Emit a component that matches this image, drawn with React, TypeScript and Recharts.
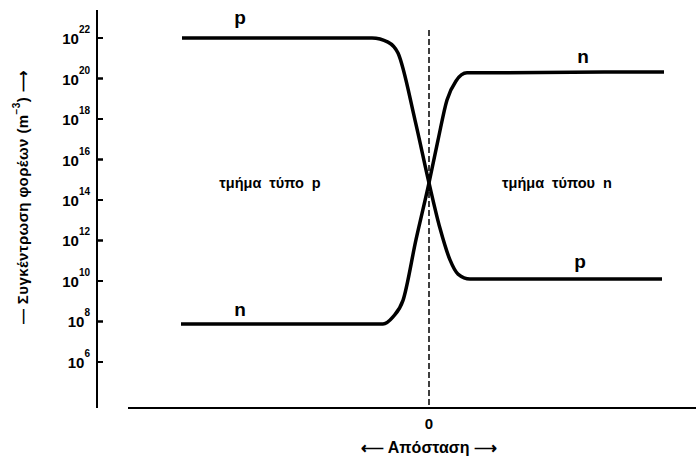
import { ComposedChart, Line, ReferenceDot, ReferenceLine, Scatter, XAxis, YAxis } from "recharts";

// Carrier concentration across a p–n junction (m^-3), log scale
const pDistance = [-2.47, -0.57, -0.41, -0.31, -0.14, 0, 0.11, 0.21, 0.29, 0.41, 2.33];
const pConcentration = [1e22, 1e22, 6.3e21, 1.8e21, 8.9e17, 7e14, 4e12, 1.1e11, 2.2e10, 1.25e10, 1.25e10];

const nDistance = [-2.48, -0.46, -0.36, -0.26, -0.13, 0, 0.09, 0.18, 0.27, 0.38, 2.35];
const nConcentration = [7.6e7, 7.6e7, 1.7e8, 1.1e9, 1.1e12, 7e14, 9e16, 8.7e18, 7.6e19, 1.9e20, 2.1e20];

const yTicks = [1e6, 1e8, 1e10, 1e12, 1e14, 1e16, 1e18, 1e20, 1e22];
const xTicks = [0];

const X_MIN = -3.32;
const X_MAX = 2.67;
const Y_MIN = Math.pow(10, 3.728);
const Y_MAX = Math.pow(10, 23.383);

const pData = pDistance.map((x, i) => ({ x, c: pConcentration[i] }));
const nData = nDistance.map((x, i) => ({ x, c: nConcentration[i] }));
const tickData = yTicks.map((c) => ({ x: X_MIN, c }));

const INK = "#000";
const FONT = '"Liberation Sans", Arial, sans-serif';

// "10" with the exponent raised
const PowerTick = (props: any) => {
  const x = Number(props.x);
  const y = Number(props.y);
  const exp = Math.round(Math.log10(props.payload.value));
  return (
    <text x={x} y={y} dy={6} textAnchor="end" fontSize={15} fontWeight="bold" fill={INK}>
      10
      <tspan dy={-11} fontSize={10}>
        {exp}
      </tspan>
    </text>
  );
};

// short inward mark on the concentration axis
const TickMark = (props: any) => {
  const cx = Number(props.cx);
  const cy = Number(props.cy);
  return <path d={`M${cx},${cy}H${cx + 6}`} stroke={INK} strokeWidth={2} fill="none" />;
};

const YTitle = (props: any) => {
  const vb = props.viewBox;
  const cx = vb.x + 22;
  const cy = vb.y + 187;
  return (
    <text
      transform={`translate(${cx}, ${cy}) rotate(-90)`}
      textAnchor="middle"
      dominantBaseline="central"
      fontSize={15}
      fontWeight="bold"
      fill={INK}
      letterSpacing={0.4}
    >
      — Συγκέντρωση φορέων (m
      <tspan dy={-6} fontSize={10}>
        −3
      </tspan>
      <tspan dy={6}>)</tspan> ⟶
    </text>
  );
};

const XTitle = (props: any) => {
  const vb = props.viewBox;
  return (
    <text
      x={vb.x + 332}
      y={447}
      textAnchor="middle"
      dominantBaseline="central"
      fontSize={16}
      fontWeight="bold"
      fill={INK}
    >
      ⟵ Απόσταση ⟶
    </text>
  );
};

const curveLabel = (value: string, offset: number) => ({
  value,
  position: "top" as const,
  offset,
  fill: INK,
  fontSize: 19,
  fontWeight: "bold",
});

const regionLabel = (value: string) => ({
  value,
  position: "center" as const,
  fill: INK,
  fontSize: 14.5,
  fontWeight: "bold",
  wordSpacing: 4,
});

export default function App() {
  return (
    <div style={{ position: "absolute", left: 0, top: 0, background: "#fff", fontFamily: FONT }}>
      <ComposedChart width={696} height={459} margin={{ top: 10, right: 0, bottom: 21, left: 0 }}>
        <XAxis
          type="number"
          dataKey="x"
          domain={[X_MIN, X_MAX]}
          ticks={xTicks}
          allowDataOverflow
          axisLine={false}
          tickLine={false}
          tickSize={0}
          tickMargin={10}
          height={30}
          tick={{ fill: INK, fontSize: 15, fontWeight: "bold" }}
          label={{ content: XTitle }}
        />
        {/* negative tick size points the tick lines into the plot */}
        <YAxis
          type="number"
          scale="log"
          domain={[Y_MIN, Y_MAX]}
          ticks={yTicks}
          interval={0}
          allowDataOverflow
          axisLine={{ stroke: INK, strokeWidth: 2 }}
          tickLine={{ stroke: INK, strokeWidth: 2 }}
          tickSize={-6}
          tickMargin={13}
          width={97}
          tick={PowerTick}
          label={{ content: YTitle }}
        />

        {/* horizontal axis, set apart from the vertical one */}
        <ReferenceLine
          segment={[
            { x: -3.01, y: Y_MIN },
            { x: X_MAX, y: Y_MIN },
          ]}
          stroke={INK}
          strokeWidth={2}
          ifOverflow="visible"
        />
        {/* junction */}
        <ReferenceLine
          segment={[
            { x: 0, y: Math.pow(10, 22.395) },
            { x: 0, y: Y_MIN },
          ]}
          stroke={INK}
          strokeWidth={1.5}
          strokeDasharray="6 3"
          ifOverflow="visible"
        />

        <Scatter data={tickData} dataKey="c" shape={TickMark} isAnimationActive={false} />

        <Line
          data={pData}
          dataKey="c"
          type="monotone"
          stroke={INK}
          strokeWidth={3.5}
          dot={false}
          isAnimationActive={false}
        />
        <Line
          data={nData}
          dataKey="c"
          type="monotone"
          stroke={INK}
          strokeWidth={3.5}
          dot={false}
          isAnimationActive={false}
        />

        <ReferenceDot x={-1.89} y={1e22} r={0} fill="none" stroke="none" label={curveLabel("p", 14)} />
        <ReferenceDot x={-1.89} y={7.6e7} r={0} fill="none" stroke="none" label={curveLabel("n", 8)} />
        <ReferenceDot x={1.54} y={2.1e20} r={0} fill="none" stroke="none" label={curveLabel("n", 9)} />
        <ReferenceDot x={1.51} y={1.25e10} r={0} fill="none" stroke="none" label={curveLabel("p", 11)} />

        <ReferenceDot x={-1.59} y={7e14} r={0} fill="none" stroke="none" label={regionLabel("τμήμα τύπο p")} />
        <ReferenceDot x={1.28} y={7e14} r={0} fill="none" stroke="none" label={regionLabel("τμήμα τύπου n")} />
      </ComposedChart>
    </div>
  );
}
